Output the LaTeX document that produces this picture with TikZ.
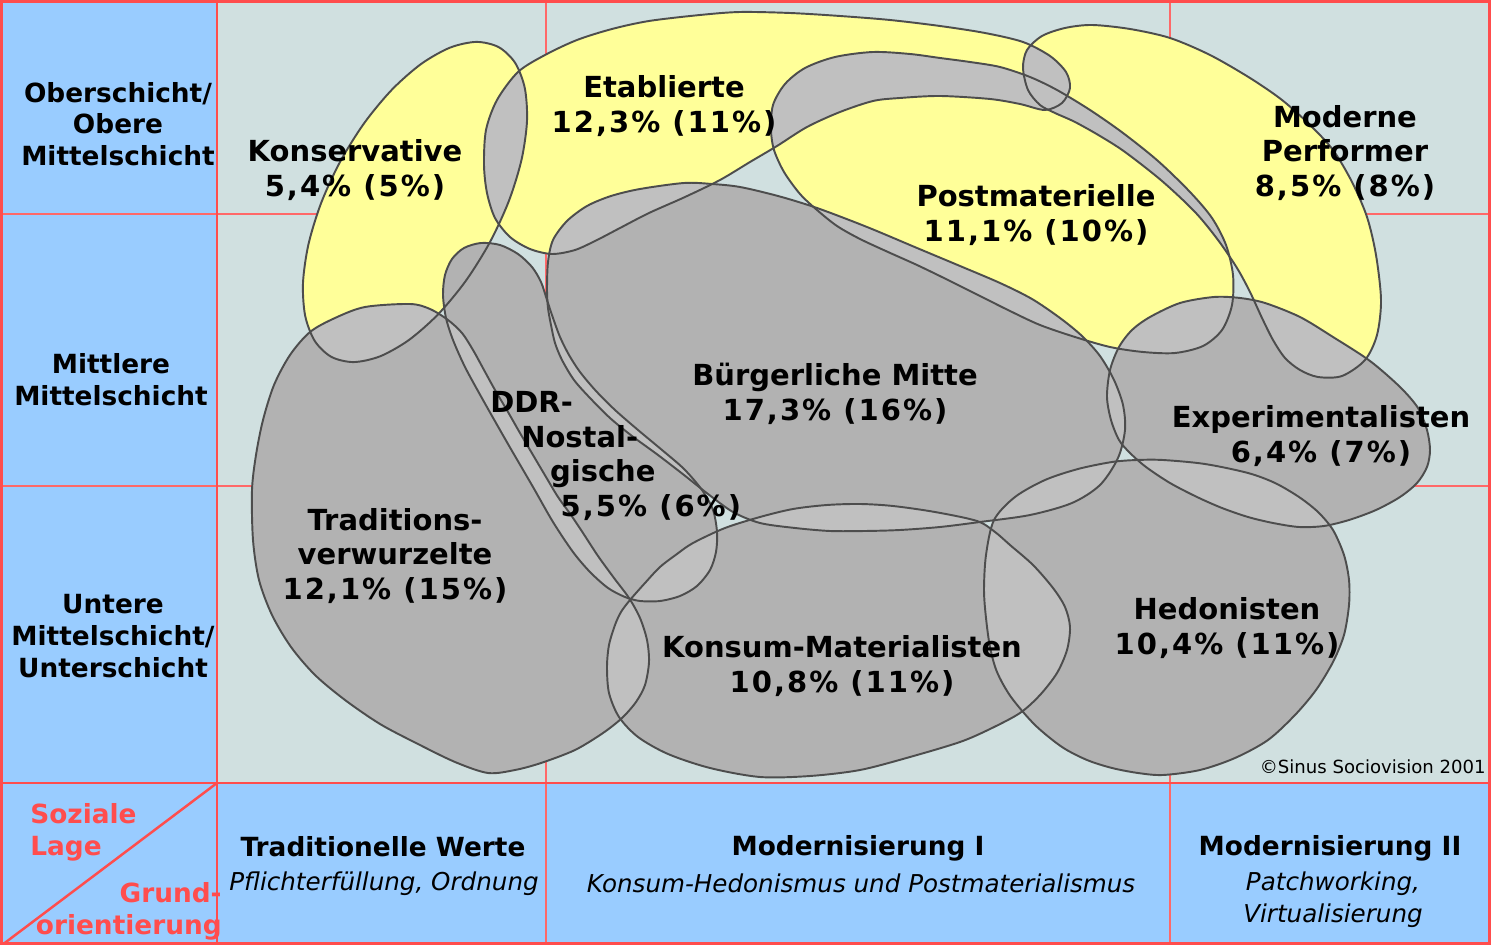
\documentclass[tikz,border=0pt]{standalone}
\usepackage{fontspec}
\setmainfont{DejaVu Sans}[ItalicFont={DejaVu Sans Oblique},BoldItalicFont={DejaVu Sans Bold Oblique}]
\definecolor{sideblue}{RGB}{153,204,255}
\definecolor{fieldgrey}{RGB}{208,224,224}
\definecolor{milieuyellow}{RGB}{255,255,153}
\definecolor{milieugrey}{RGB}{178,178,178}
\definecolor{overlapgrey}{RGB}{192,192,192}
\definecolor{outlinegrey}{RGB}{77,77,77}
\definecolor{gridred}{RGB}{255,77,77}
\tikzset{
    side color/.style={fill=sideblue},
    field color/.style={fill=fieldgrey},
    upper milieu/.style={fill=milieuyellow},
    lower milieu/.style={fill=milieugrey},
    overlap fill/.style={fill=overlapgrey},
    milieu outline/.style={draw=outlinegrey,line width=1.1pt},
    thin grid/.style={draw=gridred!85!white,line width=0.6pt},
    thick grid/.style={draw=gridred,line width=1.7pt},
    milieu label/.style={font=\fontsize{16.5}{19.8}\selectfont\bfseries,align=center,inner sep=0pt},
    axis label/.style={font=\fontsize{15}{18.1}\selectfont\bfseries,align=center,inner sep=0pt},
    axis note/.style={font=\fontsize{14}{18.1}\selectfont\itshape,align=center,inner sep=0pt},
    corner label/.style={axis label,text=gridred},
}
\newcommand{\share}[1]{{\addfontfeature{LetterSpace=7}#1}}
% milieu shapes, in pixel coordinates
\newcommand{\konsshape}{plot[smooth cycle,domain=0:345,samples=24] ({415+83.6*cos(\x)+74.8*sin(\x)},{202-154.9*cos(\x)+40.4*sin(\x)})}
\newcommand{\etabshape}{plot[smooth cycle] coordinates {(484,165) (486,130) (497,100) (518,72) (545,55) (577,40) (612,29) (649,21) (700,15) (740,12) (790,13) (840,16) (890,20) (940,26) (985,33) (1023,42) (1050,56) (1066,72) (1070,88) (1062,103) (1045,110) (1020,104) (990,99) (940,96) (900,98) (873,101) (840,112) (807,127) (777,146) (750,162) (720,180) (685,197) (649,213) (620,228) (597,240) (575,250) (552,254) (530,249) (510,237) (495,218) (487,193)}}
\newcommand{\postshape}{plot[smooth cycle] coordinates {(771,130) (773,105) (785,84) (805,68) (835,57) (873,52) (910,54) (940,58) (970,62) (1000,67) (1030,77) (1057,90) (1090,110) (1123,133) (1158,161) (1190,192) (1212,218) (1226,245) (1233,275) (1232,305) (1222,330) (1203,346) (1175,353) (1143,352) (1110,347) (1075,337) (1040,325) (1010,311) (980,296) (948,280) (917,265) (888,252) (860,239) (837,226) (817,210) (800,194) (784,172) (774,150)}}
\newcommand{\perfshape}{plot[smooth cycle] coordinates {(1023,68) (1027,50) (1042,36) (1065,28) (1092,25) (1130,29) (1170,38) (1210,55) (1250,78) (1282,100) (1310,125) (1333,150) (1352,182) (1367,217) (1376,255) (1381,300) (1377,335) (1365,360) (1342,376) (1318,377) (1300,370) (1285,358) (1273,340) (1262,318) (1250,292) (1237,268) (1218,240) (1195,212) (1162,181) (1125,152) (1100,136) (1075,122) (1055,113) (1040,105) (1028,90)}}
\newcommand{\mitteshape}{plot[smooth cycle] coordinates {(548,262) (553,240) (567,221) (587,206) (611,196) (640,189) (684,183) (712,184) (740,187) (778,196) (817,208) (867,227) (917,248) (960,266) (1000,283) (1032,299) (1060,318) (1082,336) (1100,356) (1114,380) (1123,405) (1125,430) (1118,458) (1100,485) (1072,503) (1030,515) (980,522) (940,527) (900,530) (865,531) (830,531) (795,528) (760,523) (733,512) (708,494) (684,475) (658,455) (632,436) (610,418) (590,398) (574,380) (562,360) (555,343) (551,325) (548,308) (547,290)}}
\newcommand{\ddrshape}{plot[smooth cycle] coordinates {(481,243) (500,245) (518,254) (532,267) (541,282) (547,300) (553,318) (560,337) (569,355) (580,372) (596,391) (615,410) (638,430) (662,450) (684,469) (702,490) (713,510) (717,532) (716,552) (710,570) (697,586) (680,596) (660,601) (640,601) (625,597) (608,588) (590,572) (573,552) (553,522) (533,487) (508,444) (483,400) (465,367) (453,340) (446,318) (443,295) (445,275) (452,259) (464,248)}}
\newcommand{\tradshape}{plot[smooth cycle] coordinates {(410,304) (430,309) (448,320) (462,333) (473,350) (484,370) (495,390) (508,412) (520,433) (533,455) (546,477) (558,497) (571,515) (583,533) (598,556) (614,578) (629,598) (640,618) (647,640) (649,662) (645,685) (636,702) (622,718) (603,733) (575,750) (541,763) (515,770) (488,773) (455,762) (416,743) (380,724) (345,700) (315,675) (291,647) (272,615) (259,580) (253,540) (252,490) (256,455) (263,420) (274,385) (290,355) (310,332) (335,318) (365,307)}}
\newcommand{\konsumshape}{plot[smooth cycle] coordinates {(630,600) (645,583) (660,567) (677,554) (693,543) (725,528) (760,517) (793,509) (827,505) (860,504) (893,506) (935,512) (977,521) (995,532) (1010,545) (1033,565) (1053,588) (1065,607) (1070,627) (1067,650) (1057,673) (1040,695) (1020,713) (990,729) (960,742) (910,757) (860,770) (810,776) (760,777) (710,768) (668,754) (638,737) (619,717) (609,693) (607,667) (609,645) (615,625) (621,612)}}
\newcommand{\expshape}{plot[smooth cycle] coordinates {(1107,397) (1110,370) (1119,347) (1132,330) (1150,317) (1180,303) (1214,297) (1240,298) (1265,303) (1300,317) (1333,337) (1370,361) (1400,387) (1418,408) (1427,430) (1430,450) (1427,467) (1417,483) (1400,497) (1376,510) (1349,520) (1324,526) (1299,527) (1273,523) (1248,517) (1222,508) (1197,497) (1170,483) (1146,467) (1130,453) (1119,440) (1111,420)}}
\newcommand{\hedshape}{plot[smooth cycle] coordinates {(984,590) (986,555) (994,520) (1015,497) (1045,480) (1078,469) (1112,462) (1137,460) (1163,460) (1205,464) (1248,473) (1275,483) (1299,497) (1318,512) (1333,530) (1344,555) (1349,580) (1349,605) (1344,635) (1333,662) (1316,690) (1295,715) (1268,740) (1235,758) (1200,770) (1163,775) (1138,773) (1112,768) (1087,760) (1062,747) (1035,725) (1011,697) (997,672) (990,647) (986,618)}}
\newcommand{\overlapfill}[2]{\begin{scope}\clip #1; \fill[overlap fill] #2; \end{scope}}

\begin{document}
\begin{tikzpicture}[x=0.02cm,y=-0.02cm]
    \useasboundingbox (0,0) rectangle (1491,945);
    % cells
    \fill[side color] (0,0) rectangle (217,945);
    \fill[side color] (217,783) rectangle (1491,945);
    \fill[field color] (217,0) rectangle (1491,783);
    \draw[thin grid] (0,214) -- (1491,214);
    \draw[thin grid] (0,486) -- (1491,486);
    \draw[thin grid] (546,0) -- (546,945);
    \draw[thin grid] (1170,0) -- (1170,945);

    % milieus
    \fill[upper milieu] \konsshape;
    \fill[upper milieu] \etabshape;
    \fill[upper milieu] \postshape;
    \fill[upper milieu] \perfshape;
    \fill[lower milieu] \mitteshape;
    \fill[lower milieu] \ddrshape;
    \fill[lower milieu] \tradshape;
    \fill[lower milieu] \konsumshape;
    \fill[lower milieu] \expshape;
    \fill[lower milieu] \hedshape;

    \overlapfill{\konsshape}{\etabshape}
    \overlapfill{\konsshape}{\tradshape}
    \overlapfill{\etabshape}{\postshape}
    \overlapfill{\etabshape}{\perfshape}
    \overlapfill{\etabshape}{\mitteshape}
    \overlapfill{\postshape}{\perfshape}
    \overlapfill{\postshape}{\mitteshape}
    \overlapfill{\postshape}{\expshape}
    \overlapfill{\perfshape}{\expshape}
    \overlapfill{\mitteshape}{\ddrshape}
    \overlapfill{\mitteshape}{\konsumshape}
    \overlapfill{\mitteshape}{\expshape}
    \overlapfill{\mitteshape}{\hedshape}
    \overlapfill{\tradshape}{\ddrshape}
    \overlapfill{\tradshape}{\konsumshape}
    \overlapfill{\ddrshape}{\konsumshape}
    \overlapfill{\konsumshape}{\hedshape}
    \overlapfill{\expshape}{\hedshape}

    \draw[milieu outline] \konsshape;
    \draw[milieu outline] \etabshape;
    \draw[milieu outline] \postshape;
    \draw[milieu outline] \perfshape;
    \draw[milieu outline] \mitteshape;
    \draw[milieu outline] \ddrshape;
    \draw[milieu outline] \tradshape;
    \draw[milieu outline] \konsumshape;
    \draw[milieu outline] \expshape;
    \draw[milieu outline] \hedshape;

    % frame
    \draw[thick grid] (1.5,1.5) rectangle (1489.5,943.5);
    \draw[thick grid] (217,0) -- (217,945);
    \draw[thick grid] (0,783) -- (1491,783);
    \draw[thick grid,line width=1.4pt] (217,783) -- (2,945);

    % milieu labels
    \node[milieu label] (kons) at (355,170) {Konservative\\\share{5,4\% (5\%)}};
    \node[milieu label] (etab) at (664,106) {Etablierte\\\share{12,3\% (11\%)}};
    \node[milieu label] (post) at (1036,215) {Postmaterielle\\\share{11,1\% (10\%)}};
    \node[milieu label] (perf) at (1345,153) {Moderne\\Performer\\\share{8,5\% (8\%)}};
    \node[milieu label] (mitte) at (835,394) {Bürgerliche Mitte\\\share{17,3\% (16\%)}};
    \node[milieu label,anchor=west,align=left] (ddr) at (490,456)
        {DDR-\\\hspace*{17.6pt}Nostal-\\\hspace*{34pt}gische\\\hspace*{40pt}\share{5,5\% (6\%)}};
    \node[milieu label] (trad) at (395,556) {Traditions-\\verwurzelte\\\share{12,1\% (15\%)}};
    \node[milieu label] (exp) at (1321,436) {Experimentalisten\\\share{6,4\% (7\%)}};
    \node[milieu label] (konsum) at (842,666) {Konsum-Materialisten\\\share{10,8\% (11\%)}};
    \node[milieu label] (hed) at (1227,628) {Hedonisten\\\share{10,4\% (11\%)}};
    \node[font=\fontsize{10.3}{12}\selectfont,anchor=east,inner sep=0pt] (copy) at (1486,767) {©Sinus Sociovision 2001};

    % axes
    \node[axis label] (ober) at (118,124) {Oberschicht/\\Obere\\Mittelschicht};
    \node[axis label] (mittlere) at (111,380) {Mittlere\\Mittelschicht};
    \node[axis label] (untere) at (113,636) {Untere\\Mittelschicht/\\Unterschicht};
    \node[axis label] (tradwerte) at (383,847) {Traditionelle Werte};
    \node[axis note] (pflicht) at (384,884) {Pflichterfüllung, Ordnung};
    \node[axis label] (modeins) at (858,848) {Modernisierung I};
    \node[axis note] (konshed) at (861,883) {Konsum-Hedonismus und Postmaterialismus};
    \node[axis label] (modzwei) at (1330,848) {Modernisierung II};
    \node[axis note] (patch) at (1333,900) {Patchworking,\\Virtualisierung};
    \node[corner label,anchor=west,align=left] (lage) at (30,832) {Soziale\\Lage};
    \node[corner label,anchor=east,align=right] (grund) at (222,911) {Grund-\\orientierung};
\end{tikzpicture}
\end{document}
